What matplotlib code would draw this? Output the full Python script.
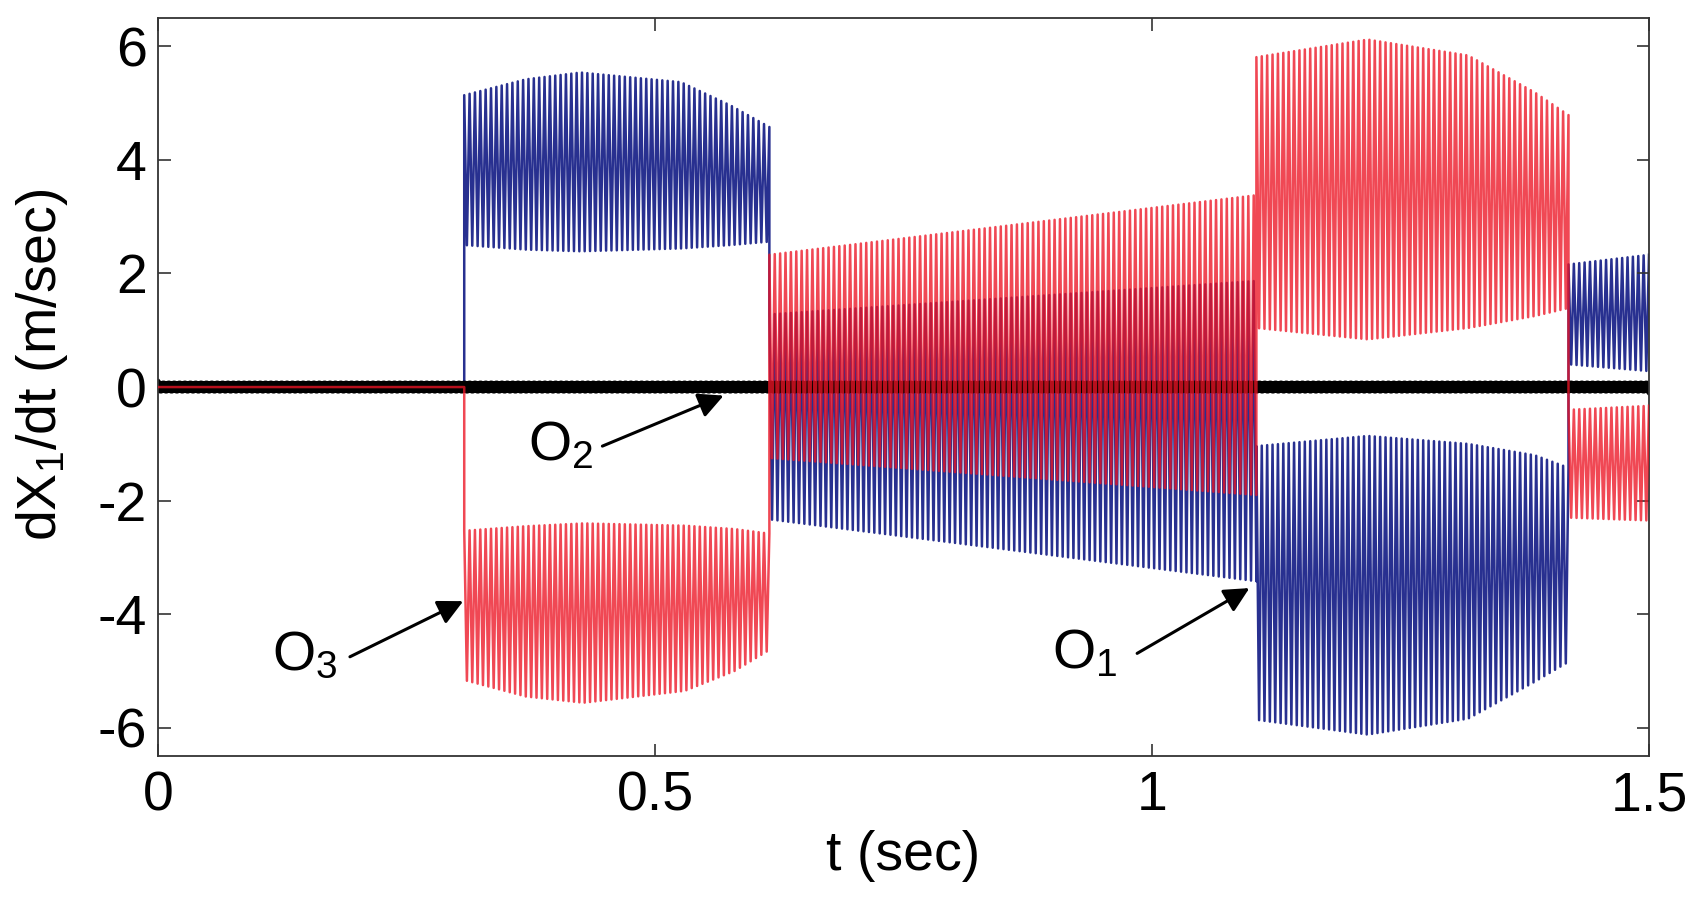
import matplotlib.pyplot as plt
import numpy as np

plt.rcParams['font.family'] = ['Liberation Sans', 'DejaVu Sans']
plt.rcParams['mathtext.fontset'] = 'custom'
plt.rcParams['mathtext.rm'] = 'Liberation Sans'
plt.rcParams['mathtext.it'] = 'Liberation Sans'
plt.rcParams['axes.unicode_minus'] = False

# oscillation envelopes, one list per segment
# (time in sec, upper / lower envelope in m/sec)
blue_t = [[0.0, 0.308],
          [0.308, 0.37, 0.425, 0.526, 0.576, 0.615],
          [0.615, 1.105],
          [1.105, 1.217, 1.318, 1.385, 1.419],
          [1.419, 1.5]]
blue_hi = [[0, 0],
           [5.14, 5.42, 5.54, 5.37, 4.96, 4.58],
           [1.28, 1.87],
           [-1.04, -0.86, -1.0, -1.2, -1.42],
           [2.16, 2.33]]
blue_lo = [[0, 0],
           [2.5, 2.42, 2.39, 2.44, 2.5, 2.56],
           [-2.33, -3.42],
           [-5.86, -6.12, -5.84, -5.19, -4.84],
           [0.4, 0.28]]

red_t = [[0.0, 0.308],
         [0.308, 0.37, 0.428, 0.53, 0.58, 0.615],
         [0.615, 1.105],
         [1.105, 1.217, 1.318, 1.385, 1.419],
         [1.419, 1.5]]
red_hi = [[0, 0],
          [-2.53, -2.45, -2.40, -2.44, -2.5, -2.58],
          [2.33, 3.38],
          [5.81, 6.12, 5.84, 5.19, 4.79],
          [-0.4, -0.33]]
red_lo = [[0, 0],
          [-5.16, -5.45, -5.56, -5.35, -5.0, -4.63],
          [-1.25, -1.9],
          [1.04, 0.84, 1.04, 1.25, 1.39],
          [-2.3, -2.35]]

black_t = [[0.0, 1.5]]
black_hi = [[0.03, 0.03]]
black_lo = [[-0.03, -0.03]]

carrier_hz = 185  # stripes counted in the picture

# arrow labels: (name, text pos, arrow tail, arrow head)
labels = [('O$_3$', (0.148, -4.75), (0.193, -4.75), (0.307, -3.77)),
          ('O$_2$', (0.405, -1.05), (0.447, -1.04), (0.569, -0.15)),
          ('O$_1$', (0.932, -4.70), (0.985, -4.69), (1.098, -3.54))]


def zigzag(seg_t, seg_hi, seg_lo, freq):
    ts, vs = [], []
    for t, hi, lo in zip(seg_t, seg_hi, seg_lo):
        n = max(int(round((t[-1] - t[0]) * freq * 2)), 1)
        tt = np.linspace(t[0], t[-1], n + 1)
        up = np.interp(tt, t, hi)
        dn = np.interp(tt, t, lo)
        ts.append(tt)
        vs.append(np.where(np.arange(n + 1) % 2 == 0, up, dn))
    return np.concatenate(ts), np.concatenate(vs)


fig = plt.figure(figsize=(17, 8.97), dpi=100)
ax = fig.add_axes([0.093, 0.157, 0.877, 0.823])

x, y = zigzag(blue_t, blue_hi, blue_lo, carrier_hz)
ax.plot(x, y, color='#283090', lw=1.8, zorder=1)
x, y = zigzag(black_t, black_hi, black_lo, carrier_hz)
ax.plot(x, y, color='k', lw=7, zorder=2, solid_joinstyle='round')
x, y = zigzag(red_t, red_hi, red_lo, carrier_hz)
ax.plot(x, y, color='#ec1424', lw=1.8, alpha=0.78, zorder=3)

for name, pos, tail, head in labels:
    ax.text(pos[0], pos[1], name, fontsize=40, ha='center', va='center', zorder=5)
    ax.annotate('', xy=head, xytext=tail,
                arrowprops=dict(arrowstyle='-|>', color='k', lw=2.2,
                                mutation_scale=38, shrinkA=0, shrinkB=0),
                zorder=5)

ax.set_xlim(0, 1.5)
ax.set_ylim(-6.5, 6.5)
ax.set_xticks([0, 0.5, 1, 1.5])
ax.set_xticklabels(['0', '0.5', '1', '1.5'])
ax.set_yticks([-6, -4, -2, 0, 2, 4, 6])
ax.tick_params(direction='in', length=9, width=1.2, labelsize=40,
               top=True, right=True, color='#333333')
ax.tick_params(axis='x', pad=10)
ax.tick_params(axis='y', pad=8)
for s in ax.spines.values():
    s.set_linewidth(1.3)
    s.set_color('#333333')

ax.set_xlabel('t (sec)', fontsize=40, va='center')
ax.set_ylabel('dX$_1$/dt (m/sec)', fontsize=40, va='center')
ax.xaxis.set_label_coords(0.5, -0.135)
ax.yaxis.set_label_coords(-0.078, 0.53)

fig.savefig('out.png', dpi=100, facecolor='white')
